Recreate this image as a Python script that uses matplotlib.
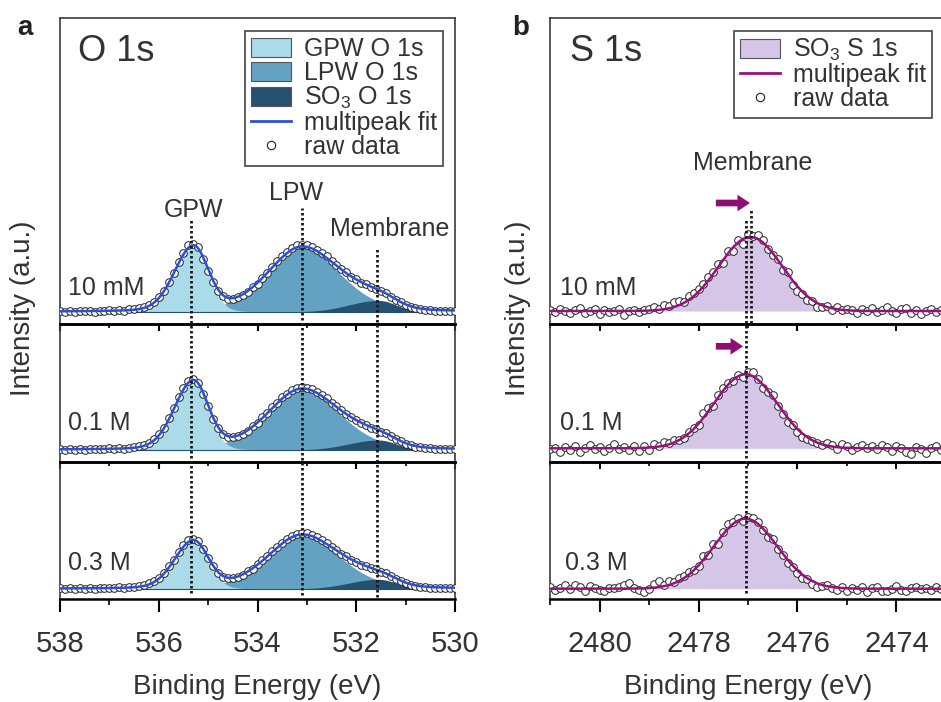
import numpy as np
import matplotlib.pyplot as plt
from matplotlib.lines import Line2D
from matplotlib.patches import Patch
from matplotlib.ticker import MultipleLocator
from matplotlib.transforms import blended_transform_factory

plt.rcParams['font.family'] = ['Liberation Sans', 'DejaVu Sans']
plt.rcParams['mathtext.fontset'] = 'custom'
plt.rcParams['mathtext.rm'] = 'Liberation Sans'
plt.rcParams['mathtext.it'] = 'Liberation Sans:italic'
plt.rcParams['text.color'] = '#333333'

conditions = ['10 mM', '0.1 M', '0.3 M']

# O 1s raw spectra, 538.0 -> 530.0 eV, 0.1 eV step (a.u.)
o1s_energy = np.round(np.arange(538.0, 529.95, -0.1), 1)
o1s_10mM = [1.2, 0.4, 1.1, 0.3, 1.3, 0.6, 1.4, 0.5, 1.5, 0.8,
            1.7, 0.9, 1.9, 1.2, 2.6, 3.2, 3.9, 5.2, 7.4, 10.1,
            15.3, 21.0, 30.2, 39.1, 49.8, 58.9, 67.0, 68.3, 65.2, 53.4,
            41.5, 30.2, 21.2, 16.0, 13.1, 13.0, 14.6, 17.0, 20.1, 24.9,
            28.4, 33.9, 38.8, 45.2, 50.6, 55.9, 60.2, 63.7, 66.6, 66.9,
            67.2, 65.1, 62.5, 59.2, 55.6, 51.0, 47.3, 42.9, 39.6, 35.0,
            32.8, 29.3, 27.9, 24.6, 23.5, 20.6, 18.9, 15.2, 12.3, 9.6,
            7.0, 5.1, 3.8, 2.9, 2.3, 1.8, 1.5, 1.2, 1.1, 0.9,
            1.0]
o1s_01M = [1.0, 0.3, 1.2, 0.5, 1.1, 0.4, 1.3, 0.6, 1.4, 0.7,
           1.6, 1.0, 1.8, 1.3, 2.5, 2.9, 3.8, 5.1, 7.3, 10.6,
           15.8, 22.5, 31.6, 41.8, 52.7, 62.1, 69.5, 71.0, 67.3, 56.4,
           43.6, 31.5, 22.0, 16.1, 13.4, 12.6, 13.9, 16.5, 19.2, 23.6,
           27.1, 32.8, 37.3, 42.8, 47.5, 52.6, 56.3, 59.8, 61.9, 62.8,
           62.4, 60.9, 58.3, 55.0, 51.6, 47.4, 43.8, 39.7, 36.4, 32.6,
           30.2, 27.0, 25.4, 22.5, 21.2, 18.5, 16.9, 13.6, 11.0, 8.6,
           6.3, 4.7, 3.4, 2.6, 2.0, 1.6, 1.3, 1.1, 0.9, 1.0,
           0.8]
o1s_03M = [1.1, 0.3, 0.9, 0.2, 1.0, 0.4, 1.2, 0.5, 1.3, 0.6,
           1.4, 0.8, 1.6, 1.1, 2.0, 2.4, 3.1, 4.0, 5.6, 7.9,
           11.4, 16.2, 22.6, 29.5, 37.0, 43.6, 48.9, 50.3, 47.9, 39.6,
           30.8, 22.6, 16.5, 12.4, 11.0, 10.7, 12.2, 14.1, 17.6, 20.2,
           24.9, 28.8, 33.5, 37.6, 42.5, 46.4, 50.2, 53.1, 55.2, 56.0,
           55.7, 54.3, 52.0, 49.1, 46.2, 42.3, 39.2, 35.5, 32.8, 29.3,
           27.5, 24.5, 23.2, 20.7, 19.6, 17.2, 15.8, 12.8, 10.3, 7.9,
           5.9, 4.3, 3.1, 2.3, 1.8, 1.4, 1.2, 1.0, 0.8, 0.9,
           0.7]

# O 1s fit components: GPW, LPW, SO3 (split pseudo-Voigt)
o1s_labels = ['GPW O 1s', 'LPW O 1s', 'SO$_3$ O 1s']
o1s_center = [535.30, 533.10, 531.55]
o1s_sigma_high = [0.38, 0.70, 0.60]   # high binding energy side
o1s_sigma_low = [0.30, 0.76, 0.36]    # low binding energy side
o1s_eta = [0.10, 0.30, 0.0]
gpw_amp = [64.0, 67.5, 46.7]
lpw_amp = [65.0, 61.0, 54.1]
so3_o_amp = [11.6, 10.0, 9.7]

# S 1s raw spectra, 2481.0 -> 2473.0 eV, 0.1 eV step (a.u.)
s1s_energy = np.round(np.arange(2481.0, 2472.95, -0.1), 1)
s1s_10mM = [1.5, -1.0, 2.5, 0.5, -2.0, 1.0, 3.0, -1.5, 0.0, 2.0,
            -2.5, 1.0, -1.0, 0.5, 2.5, -3.5, 0.5, 1.5, -1.0, 1.0,
            2.4, 4.2, 1.6, 5.8, 5.2, 8.9, 10.2, 9.0, 15.0, 17.7,
            21.7, 26.6, 34.1, 38.7, 46.7, 48.1, 60.3, 59.7, 70.6, 67.5,
            76.8, 74.8, 76.0, 70.6, 62.2, 55.8, 52.1, 41.2, 38.7, 26.1,
            19.6, 17.2, 11.2, 10.0, 4.0, 4.2, 4.9, 1.2, 3.8, 0.6,
            2.2, 1.0, -1.5, 2.5, 0.5, 3.5, -1.0, 1.5, 4.0, 0.0,
            -2.0, 2.0, 3.0, -1.5, 1.0, -2.5, 0.5, 2.0, -1.0, 1.5,
            3.0]
s1s_01M = [-1.0, 0.5, -3.5, 1.5, -1.5, 2.5, -4.0, 0.0, 3.0, -1.0,
           1.5, -2.5, 0.5, 4.0, -1.0, 1.0, -2.0, 2.5, -3.0, 1.9,
           -1.8, 4.1, 2.8, 6.2, 5.4, 8.7, 8.5, 10.0, 16.7, 20.7,
           23.6, 35.1, 40.7, 42.2, 53.1, 60.8, 65.2, 67.6, 73.0, 71.8,
           76.3, 76.0, 69.6, 60.7, 56.3, 53.6, 42.2, 34.7, 26.6, 23.6,
           16.7, 11.7, 9.0, 7.0, 5.2, 2.9, 5.7, 3.3, -0.4, 4.2,
           1.9, -2.0, 1.5, 3.0, 0.5, 2.5, -1.0, 3.5, 1.0, -2.5,
           2.0, 0.0, -3.5, -6.0, 1.5, -1.0, -5.0, 0.5, 2.0, -1.5,
           1.0]
s1s_03M = [2.0, -1.5, 1.0, 3.5, 0.0, 4.0, 1.5, -2.0, 2.5, 0.5,
           -1.0, -2.5, 1.0, 0.5, 2.0, 3.5, 5.5, 1.0, -1.5, -3.1,
           -0.3, 4.6, 7.7, 4.0, 8.2, 6.4, 11.1, 12.4, 16.9, 19.2,
           22.7, 32.5, 34.2, 44.3, 44.9, 56.7, 64.3, 66.4, 70.6, 67.3,
           71.3, 71.1, 66.9, 58.3, 51.7, 49.4, 39.3, 33.7, 26.0, 22.2,
           16.2, 10.4, 9.4, 5.1, 1.9, 2.7, 4.0, 1.2, -1.4, 1.7,
           -2.6, 1.0, -1.5, 2.0, -3.0, 0.5, 1.5, -2.0, -2.5, 0.0,
           3.0, -1.0, -2.0, 0.5, 1.5, -0.5, 1.0, -1.5, 2.0, 0.0,
           1.5]

# S 1s fit: single SO3 gaussian per sample
s1s_center = [2476.95, 2477.05, 2477.05]
s1s_amp = [74.0, 74.0, 70.0]
s1s_sigma = 0.64

gpw_color = '#a9dbe8'
lpw_color = '#64a2c4'
so3_color = '#26506f'
fit_blue = '#2d4fd3'
s_fill = '#d5c5e7'
s_line = '#98127c'
arrow_color = '#8e0e73'


def split_pv(x, center, amp, sig_hi, sig_lo, eta):
    sig = np.where(x >= center, sig_hi, sig_lo)
    d = x - center
    gauss = np.exp(-d**2 / (2 * sig**2))
    hwhm = sig * np.sqrt(2 * np.log(2))
    lorentz = 1 / (1 + (d / hwhm)**2)
    return amp * ((1 - eta) * gauss + eta * lorentz)


fig = plt.figure(figsize=(9.41, 7.02), dpi=100)

# row positions (figure fraction): tall top row holds the legend
rows = [(0.53846, 0.43590), (0.34188, 0.19658), (0.14672, 0.19516)]
o1s_ylims = [(-12, 294), (-12, 126), (-10, 127)]
s1s_ylims = [(-13, 293), (-13.7, 124.3), (-10.3, 126.7)]

ax_o = [fig.add_axes([0.0638, b, 0.4197, h], facecolor='none') for b, h in rows]
ax_s = [fig.add_axes([0.5845, b, 0.4208, h], facecolor='none') for b, h in rows]


def style_axes(axes, xlim):
    for i, ax in enumerate(axes):
        ax.set_xlim(*xlim)
        ax.set_yticks([])
        ax.xaxis.set_major_locator(MultipleLocator(2))
        ax.xaxis.set_minor_locator(MultipleLocator(1))
        for side in ['left', 'right', 'top']:
            ax.spines[side].set_color('#3a3a3a')
            ax.spines[side].set_linewidth(1.2)
        ax.spines['bottom'].set_color('black')
        ax.spines['bottom'].set_linewidth(1.8)
        if i > 0:
            ax.spines['top'].set_color('black')
            ax.spines['top'].set_linewidth(1.8)
        if i < 2:
            ax.tick_params(axis='x', which='major', direction='out', length=5,
                           width=1.5, labelbottom=False)
            ax.tick_params(axis='x', which='minor', direction='out', length=3,
                           width=1.2)
        else:
            ax.tick_params(axis='x', which='major', direction='out', length=9.5,
                           width=1.5, pad=13, labelsize=21, labelcolor='#333333')
            ax.tick_params(axis='x', which='minor', direction='out', length=4.5,
                           width=1.2)


style_axes(ax_o, (538, 530))
style_axes(ax_s, (2481, 2473))

# O 1s panels
xf = np.linspace(538, 530, 1601)
o1s_raw = [o1s_10mM, o1s_01M, o1s_03M]
for i, ax in enumerate(ax_o):
    amps = [gpw_amp[i], lpw_amp[i], so3_o_amp[i]]
    comps = [split_pv(xf, o1s_center[j], amps[j], o1s_sigma_high[j],
                      o1s_sigma_low[j], o1s_eta[j]) for j in range(3)]
    fit = comps[0] + comps[1] + comps[2]
    ax.fill_between(xf, 0, comps[1], where=comps[1] > 0.6, color=lpw_color, lw=0, zorder=1)
    ax.fill_between(xf, 0, comps[0], where=comps[0] > 0.6, color=gpw_color, lw=0, zorder=1.2)
    ax.fill_between(xf, 0, comps[2], color=so3_color, lw=0, zorder=1.4)
    ax.axhline(0, color=so3_color, lw=0.8, zorder=1.5)
    ax.plot(o1s_energy, o1s_raw[i], 'o', ms=5.5, mfc='white', mec='#222222',
            mew=0.7, zorder=3)
    ax.plot(xf, fit, color=fit_blue, lw=1.8, zorder=4)
    ax.set_ylim(*o1s_ylims[i])
    ax.text(0.02, [0.118, 0.283, 0.263][i], conditions[i], transform=ax.transAxes,
            fontsize=18, ha='left', va='center')

# S 1s panels
xs = np.linspace(2481, 2473, 1601)
s1s_raw = [s1s_10mM, s1s_01M, s1s_03M]
for i, ax in enumerate(ax_s):
    comp = s1s_amp[i] * np.exp(-(xs - s1s_center[i])**2 / (2 * s1s_sigma**2))
    ax.fill_between(xs, 0, comp, color=s_fill, lw=0, zorder=1)
    ax.plot(s1s_energy, s1s_raw[i], 'o', ms=5.5, mfc='white', mec='#222222',
            mew=0.7, zorder=3)
    ax.plot(xs, comp, color=s_line, lw=1.8, zorder=4)
    ax.set_ylim(*s1s_ylims[i])
    ax.text([0.025, 0.025, 0.038][i], [0.118, 0.283, 0.265][i], conditions[i],
            transform=ax.transAxes, fontsize=18, ha='left', va='center')

# peak labels
ax_o[0].text(535.29, 102, 'GPW', fontsize=18, ha='center', va='center')
ax_o[0].text(533.21, 119, 'LPW', fontsize=18, ha='center', va='center')
ax_o[0].text(531.33, 83, 'Membrane', fontsize=18, ha='center', va='center')
ax_s[0].text(2476.9, 148, 'Membrane', fontsize=18, ha='center', va='center')

ax_o[0].text(0.046, 0.889, 'O 1s', transform=ax_o[0].transAxes, fontsize=26,
             ha='left', va='center')
ax_s[0].text(0.05, 0.889, 'S 1s', transform=ax_s[0].transAxes, fontsize=26,
             ha='left', va='center')

# shift arrows
arrow_style = 'simple,head_length=0.45,head_width=0.6,tail_width=0.24'
ax_s[0].annotate('', xy=(2476.96, 108), xytext=(2477.65, 108),
                 arrowprops=dict(arrowstyle=arrow_style, color=arrow_color, lw=0,
                                 mutation_scale=20, shrinkA=0, shrinkB=0))
ax_s[1].annotate('', xy=(2477.10, 102), xytext=(2477.65, 102),
                 arrowprops=dict(arrowstyle=arrow_style, color=arrow_color, lw=0,
                                 mutation_scale=20, shrinkA=0, shrinkB=0))

# dotted guide lines running through the stacked panels
def guide(ax, x, y0, y1):
    trans = blended_transform_factory(ax.transData, fig.transFigure)
    fig.add_artist(Line2D([x, x], [y0, y1], transform=trans, color='#1a1a1a',
                          lw=2.0, ls=(0, (0.9, 0.9)), zorder=5))


guide(ax_o[2], 535.34, 0.1553, 0.6895)
guide(ax_o[2], 533.09, 0.1524, 0.7037)
guide(ax_o[2], 531.58, 0.1496, 0.6481)
guide(ax_s[2], 2477.05, 0.1553, 0.6866)
guide(ax_s[2], 2476.93, 0.5399, 0.7037)

# legends
marker_handle = Line2D([], [], ls='none', marker='o', ms=6, mfc='white',
                       mec='#222222', mew=0.8)
o_handles = [Patch(fc=gpw_color, ec='#555555', lw=0.8),
             Patch(fc=lpw_color, ec='#555555', lw=0.8),
             Patch(fc=so3_color, ec='#555555', lw=0.8),
             Line2D([], [], color=fit_blue, lw=2),
             marker_handle]
s_handles = [Patch(fc=s_fill, ec='#555555', lw=0.8),
             Line2D([], [], color=s_line, lw=2),
             marker_handle]

leg_kw = dict(loc='upper right', fontsize=18, frameon=True, fancybox=False,
              framealpha=1, borderaxespad=0, handlelength=1.6, handleheight=0.8,
              handletextpad=0.5, borderpad=0.25, labelspacing=0.0)
leg1 = ax_o[0].legend(o_handles, o1s_labels + ['multipeak fit', 'raw data'],
                      bbox_to_anchor=(0.9696, 0.9575), **leg_kw)
leg2 = ax_s[0].legend(s_handles, ['SO$_3$ S 1s', 'multipeak fit', 'raw data'],
                      bbox_to_anchor=(0.9646, 0.9575), **leg_kw)
for leg in [leg1, leg2]:
    leg.get_frame().set_edgecolor('#444444')
    leg.get_frame().set_linewidth(1.2)

# shared axis labels and panel letters
fig.text(0.0244, 0.561, 'Intensity (a.u.)', rotation=90, fontsize=20,
         ha='center', va='center')
fig.text(0.5505, 0.561, 'Intensity (a.u.)', rotation=90, fontsize=20,
         ha='center', va='center')
fig.text(0.2737, 0.0214, 'Binding Energy (eV)', fontsize=20, ha='center', va='center')
fig.text(0.7949, 0.0214, 'Binding Energy (eV)', fontsize=20, ha='center', va='center')
fig.text(0.018, 0.96, 'a', fontsize=20, fontweight='bold', ha='left', va='center',
         color='#222222')
fig.text(0.544, 0.96, 'b', fontsize=20, fontweight='bold', ha='left', va='center',
         color='#222222')

fig.savefig('out.png', dpi=100)
